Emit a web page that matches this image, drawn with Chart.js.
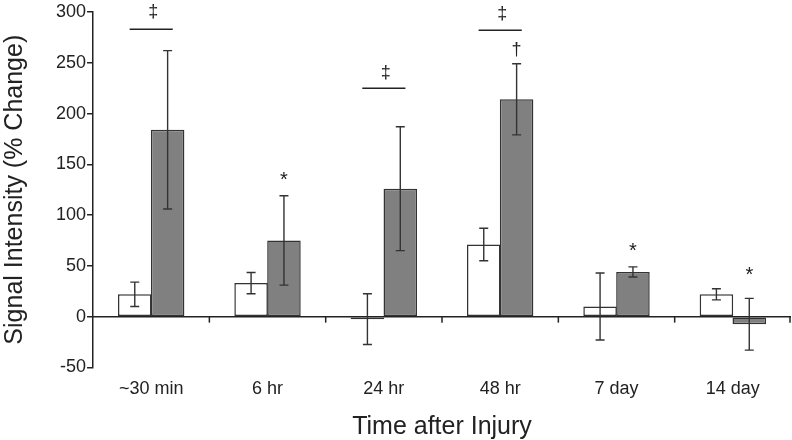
<!DOCTYPE html>
<html>
<head>
<meta charset="utf-8">
<script src="https://cdn.jsdelivr.net/npm/chart.js@4"></script>
<style>
  html, body { margin: 0; padding: 0; background: #fff; }
  #wrap { width: 792px; height: 440px; }
</style>
</head>
<body>
<div id="wrap"><canvas id="c" width="792" height="440"></canvas></div>
<script>
// ---- data ----
const categories = ['~30 min', '6 hr', '24 hr', '48 hr', '7 day', '14 day'];
const controlValues = [22, 33, -2.5, 71, 10, 22];
const controlErrors = [12, 10.5, 25, 16, 33, 5.5];
const injuredValues = [184, 75, 126, 214, 44, -7.5];
const injuredErrors = [78, 44, 61, 35, 5, 25.5];
const yTicks = [-50, 0, 50, 100, 150, 200, 250, 300];

// significance brackets (category index, line value, label, label value)
const sigCategories = [0, 2, 3];
const sigLineValues = [283, 225, 282];
const sigLabels = ['‡', '‡', '‡'];
const sigLabelValues = [300, 240, 298];

// markers above the grey bars
const markCategories = [1, 3, 4, 5];
const markLabels = ['*', '†', '*', '*'];
const markValues = [137, 263, 67, 43];

const FONT = '"Liberation Sans", Arial, Helvetica, sans-serif';
const INK = '#222';

const annotate = {
  id: 'annotate',
  afterDatasetsDraw(chart) {
    const ctx = chart.ctx;
    const y = chart.scales.y;
    const x = chart.scales.x;
    const area = chart.chartArea;
    ctx.save();
    // zero line
    const y0 = y.getPixelForValue(0);
    ctx.strokeStyle = INK;
    ctx.lineWidth = 1.5;
    ctx.beginPath();
    ctx.moveTo(area.left, y0);
    ctx.lineTo(area.right, y0);
    ctx.stroke();
    // category boundary tick marks below zero line
    const step = x.getPixelForValue(1) - x.getPixelForValue(0);
    for (let i = 0; i < categories.length; i++) {
      const bx = Math.min(x.getPixelForValue(i) + step / 2, area.right - 1);
      ctx.beginPath();
      ctx.moveTo(bx, y0);
      ctx.lineTo(bx, y0 + 6);
      ctx.stroke();
    }
    // error bars
    const errs = [controlErrors, injuredErrors];
    const vals = [controlValues, injuredValues];
    ctx.strokeStyle = '#333';
    ctx.lineWidth = 1.4;
    for (let d = 0; d < 2; d++) {
      const meta = chart.getDatasetMeta(d);
      meta.data.forEach((bar, i) => {
        const v = vals[d][i], e = errs[d][i];
        const yt = y.getPixelForValue(v + e);
        const yb = y.getPixelForValue(v - e);
        const cx = bar.x;
        const cap = 4.5;
        ctx.beginPath();
        ctx.moveTo(cx, yt); ctx.lineTo(cx, yb);
        ctx.moveTo(cx - cap, yt); ctx.lineTo(cx + cap, yt);
        ctx.moveTo(cx - cap, yb); ctx.lineTo(cx + cap, yb);
        ctx.stroke();
      });
    }
    // significance brackets
    const m0 = chart.getDatasetMeta(0);
    const m1 = chart.getDatasetMeta(1);
    ctx.fillStyle = INK;
    ctx.textAlign = 'center';
    ctx.textBaseline = 'middle';
    ctx.font = '18px ' + FONT;
    sigCategories.forEach((c, k) => {
      const b0 = m0.data[c], b1 = m1.data[c];
      const left = b0.x - b0.width / 2;
      const right = b1.x + b1.width / 2;
      const cx = (left + right) / 2;
      const half = (right - left) * 0.325;
      const ly = y.getPixelForValue(sigLineValues[k]);
      ctx.strokeStyle = INK;
      ctx.lineWidth = 1.5;
      ctx.beginPath();
      ctx.moveTo(cx - half, ly); ctx.lineTo(cx + half, ly);
      ctx.stroke();
      ctx.fillText(sigLabels[k], cx + 2, y.getPixelForValue(sigLabelValues[k]));
    });
    // markers over grey bars
    markCategories.forEach((c, k) => {
      const b1 = m1.data[c];
      ctx.font = (markLabels[k] === '*' ? '20px ' : '18px ') + FONT;
      ctx.fillText(markLabels[k], b1.x, y.getPixelForValue(markValues[k]) + (markLabels[k] === '*' ? 3 : 0));
    });
    ctx.restore();
  }
};

new Chart(document.getElementById('c'), {
  type: 'bar',
  data: {
    labels: categories,
    datasets: [
      {
        label: 'Control',
        data: controlValues,
        backgroundColor: '#ffffff',
        borderColor: '#333333',
        borderWidth: 1.5,
        borderSkipped: false,
        categoryPercentage: 0.565,
        barPercentage: 1.02
      },
      {
        label: 'Injured',
        data: injuredValues,
        backgroundColor: '#808080',
        borderColor: '#333333',
        borderWidth: 1.5,
        borderSkipped: false,
        categoryPercentage: 0.565,
        barPercentage: 1.02
      }
    ]
  },
  options: {
    responsive: false,
    animation: false,
    devicePixelRatio: 1,
    layout: { padding: { top: 12, right: 1, left: 0, bottom: -2 } },
    plugins: {
      legend: { display: false },
      tooltip: { enabled: false }
    },
    scales: {
      x: {
        grid: { display: false },
        border: { display: false },
        ticks: {
          color: INK,
          font: { family: FONT, size: 18 },
          padding: 3,
          maxRotation: 0
        },
        title: {
          display: true,
          text: 'Time after Injury',
          color: INK,
          font: { family: FONT, size: 25 },
          padding: { top: 9, bottom: 0 }
        }
      },
      y: {
        min: -50,
        max: 300,
        afterBuildTicks(scale) {
          scale.ticks = yTicks.map(v => ({ value: v }));
        },
        grid: {
          drawOnChartArea: false,
          drawTicks: true,
          tickLength: 6,
          color: INK,
          lineWidth: 1.5
        },
        border: { display: true, color: INK, width: 1.5 },
        ticks: {
          color: INK,
          font: { family: FONT, size: 18 },
          padding: 1
        },
        title: {
          display: true,
          text: 'Signal Intensity (% Change)',
          color: INK,
          font: { family: FONT, size: 25 },
          padding: { top: 0, bottom: 25 }
        }
      }
    }
  },
  plugins: [annotate]
});
</script>
</body>
</html>
